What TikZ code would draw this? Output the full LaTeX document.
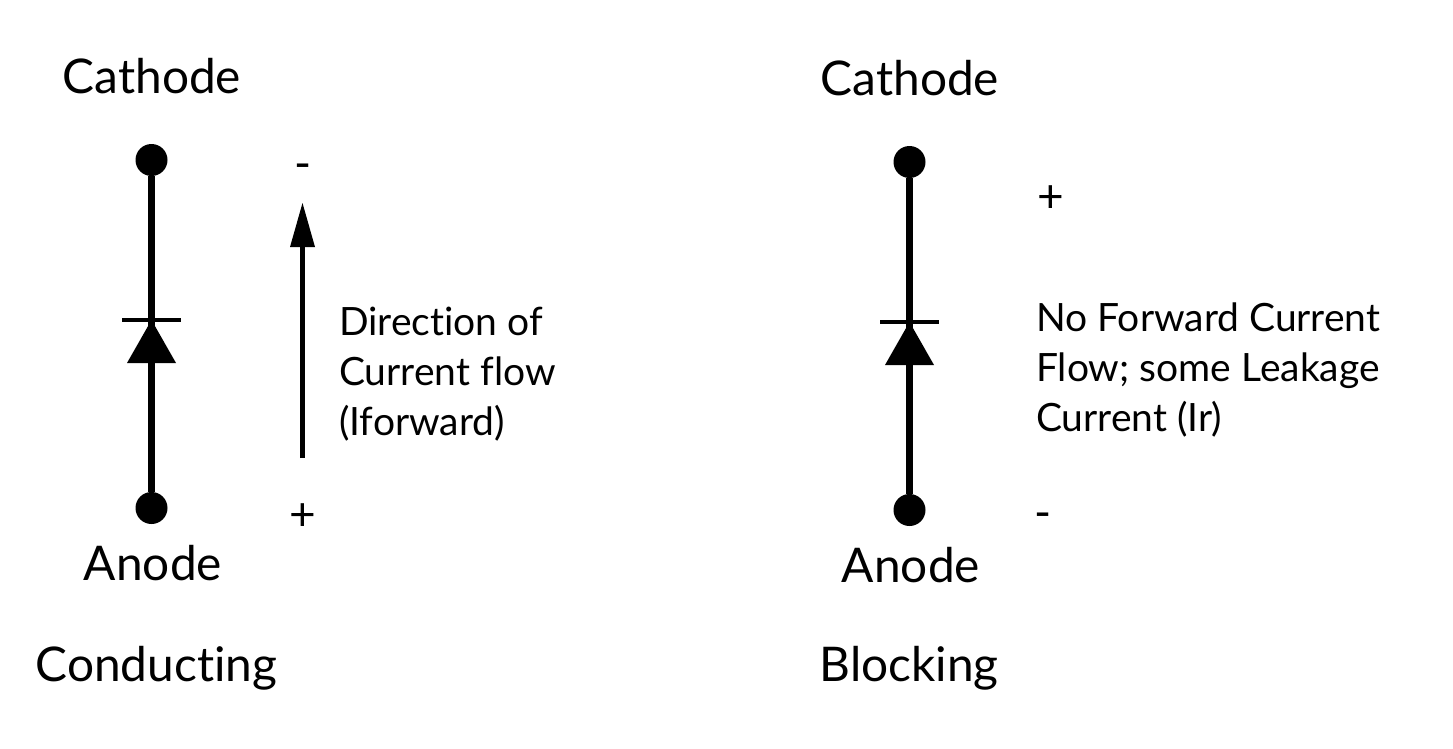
\documentclass[tikz,border=0pt]{standalone}
\usepackage{fontspec}
\setmainfont[Ligatures=NoCommon]{Lato}
\usetikzlibrary{arrows}
\tikzset{
  lbl/.style={inner sep=0pt,font=\fontsize{47.8}{47.8}\selectfont},
  txt/.style={inner sep=0pt,align=left,anchor=west,font=\fontsize{39}{50}\selectfont},
  sgn/.style={inner sep=0pt,font=\fontsize{46}{46}\selectfont},
  term/.style={circle,fill=black,inner sep=0pt,minimum size=32pt},
  wire/.style={line width=6.5pt},
  bar/.style={line width=4.5pt}
}
\begin{document}
\begin{tikzpicture}[line cap=butt,line join=round,x=1pt,y=-1pt]
  \useasboundingbox (0,0) rectangle (1453,749);
  % conducting diode
  \node[term] (K1) at (151.5,160) {};
  \node[term] (A1) at (151.5,508) {};
  \coordinate (B1) at (151.5,320);
  \draw[wire] (K1) -- (A1);
  \draw[bar] (122,320) -- (181,320);
  \fill (B1) -- (127,363) -- (176,363) -- cycle;
  \node[lbl] (cat1) at (152,76) {Cathode};
  \node[lbl] (ano1) at (153,563) {Anode};
  \node[lbl,anchor=west] (state1) at (35.5,668) {Conducting};
  % current arrow
  \coordinate (arrS) at (302.5,458);
  \coordinate (arrE) at (302.5,247);
  \draw[line width=5pt] (arrS) -- (arrE);
  \fill (302.5,203) -- (290,247) -- (315,247) -- cycle;
  \node[sgn] (minus1) at (303,172) {-};
  \node[sgn] (plus1) at (302.5,517) {+};
  \node[txt] (dir) at (339,374) {Direction of\\Current flow\\(Iforward)};
  % blocking diode
  \node[term] (K2) at (909.5,162) {};
  \node[term] (A2) at (909.5,510) {};
  \coordinate (B2) at (909.5,322);
  \draw[wire] (K2) -- (A2);
  \draw[bar] (880,322) -- (939,322);
  \fill (B2) -- (885,365) -- (934,365) -- cycle;
  \node[lbl] (cat2) at (910,78) {Cathode};
  \node[lbl] (ano2) at (911,565) {Anode};
  \node[lbl,anchor=west] (state2) at (819.5,668) {Blocking};
  \node[sgn] (plus2) at (1050.5,199) {+};
  \node[sgn] (minus2) at (1043.5,521) {-};
  \node[txt] (leak) at (1036,370) {No Forward Current\\Flow; some Leakage\\Current (Ir)};
\end{tikzpicture}
\end{document}
